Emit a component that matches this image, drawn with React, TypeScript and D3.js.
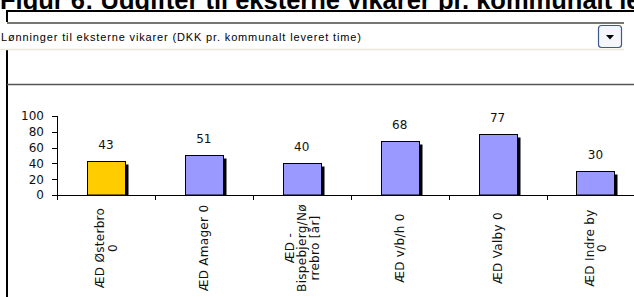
import React from 'react'
import * as d3 from 'd3'

const titleText = 'Figur 6: Udgifter til eksterne vikarer pr. kommunalt leveret time'
const selectorText = 'Lønninger til eksterne vikarer (DKK pr. kommunalt leveret time)'
const categories = ['ÆD Østerbro 0', 'ÆD Amager 0', 'ÆD - Bispebjerg/Nørrebro [år]', 'ÆD v/b/h 0', 'ÆD Valby 0', 'ÆD Indre by 0']
// wrapped the way the chart wraps them
const categoryLines = [['ÆD Østerbro', '0'], ['ÆD Amager 0'], ['ÆD -', 'Bispebjerg/Nø', 'rrebro [år]'], ['ÆD v/b/h 0'], ['ÆD Valby 0'], ['ÆD Indre by', '0']]
const values = [43, 51, 40, 68, 77, 30]
const selected = 'ÆD Østerbro 0'
const yTicks = [0, 20, 40, 60, 80, 100]

const W = 634
const H = 297
const font = '"DejaVu Sans", sans-serif'

export default function App () {
  const x = d3.scaleBand().domain(categories).range([57, 644.4]).padding(0)
  const y = d3.scaleLinear().domain([0, 100]).range([195, 116])
  const barW = Math.round(x.bandwidth() * 0.39)
  const lh = 12.5

  return (
    <svg width={W} height={H} style={{ position: 'absolute', left: 0, top: 0, background: '#fff' }}>
      {/* caption, half hidden behind the embedded picture */}
      <text x={0} y={8.5} fontFamily='"Liberation Sans", Arial, sans-serif' fontWeight='bold' fontSize={25.5}>{titleText}</text>
      <rect x={6} y={10} width={W} height={H} fill='#fff' />
      <rect x={6} y={10} width={W} height={2} fill='#000' />
      <rect x={6} y={10} width={2} height={H} fill='#000' />

      {/* selector */}
      <rect x={0} y={22} width={624} height={28} fill='#fff' />
      <line x1={7} x2={624} y1={23} y2={23} stroke='#4a4a42' strokeWidth={1.5} />
      <line x1={0} x2={624} y1={49.5} y2={49.5} stroke='#ebe8d8' strokeWidth={1.5} />
      <text x={1} y={41} fontFamily='"Liberation Sans", Arial, sans-serif' fontSize={11} textLength={360}>{selectorText}</text>
      <rect x={598.5} y={25.5} width={23} height={22} rx={3} fill='#f4f6fb' stroke='#3d5a8a' strokeWidth={1.2} />
      <path d='M606,35 L614,35 L610,39.5 Z' fill='#000' />

      <line x1={7} x2={W} y1={84.5} y2={84.5} stroke='#555' strokeWidth={1.5} />

      {/* y axis */}
      <line x1={57.5} x2={57.5} y1={y(100)} y2={y(0) + 5} stroke='#000' />
      {yTicks.map(t => (
        <g key={t}>
          <line x1={52} x2={57.5} y1={Math.round(y(t)) + 0.5} y2={Math.round(y(t)) + 0.5} stroke='#000' />
          <text x={44} y={y(t)} dy='0.36em' textAnchor='end' fontFamily={font} fontSize={12} fill='#111'>{t}</text>
        </g>
      ))}

      {/* bars */}
      {categories.map((c, i) => {
        const cx = x(c)! + x.bandwidth() / 2
        const bx = Math.round(cx - barW / 2) + 0.5
        const top = Math.round(y(values[i])) + 0.5
        return (
          <g key={c}>
            <rect x={bx + 3} y={top + 3} width={barW} height={195 - top - 3} fill='#000' />
            <rect x={bx} y={top} width={barW} height={195 - top} fill={c === selected ? '#ffcc00' : '#9999ff'} stroke='#000' strokeWidth={1} />
            <text x={cx} y={top - 12.7} textAnchor='middle' fontFamily={font} fontSize={12} fill='#111'>{values[i]}</text>
          </g>
        )
      })}

      {/* x axis */}
      <line x1={57} x2={W} y1={195.5} y2={195.5} stroke='#000' />
      {categories.map(c => (
        <line key={c} x1={Math.round(x(c)! + x.bandwidth()) + 0.5} x2={Math.round(x(c)! + x.bandwidth()) + 0.5} y1={195} y2={200} stroke='#000' />
      ))}
      {categories.map((c, i) => {
        const cx = x(c)! + x.bandwidth() / 2
        const lines = categoryLines[i]
        return (
          <text key={c} transform={`translate(${cx},248) rotate(-90)`} textAnchor='middle' fontFamily={font} fontSize={12} fill='#111' letterSpacing={0.3}>
            {lines.map((l, j) => (
              <tspan key={j} x={0} y={(j - (lines.length - 1) / 2) * lh} dy='0.36em'>{l}</tspan>
            ))}
          </text>
        )
      })}
    </svg>
  )
}
